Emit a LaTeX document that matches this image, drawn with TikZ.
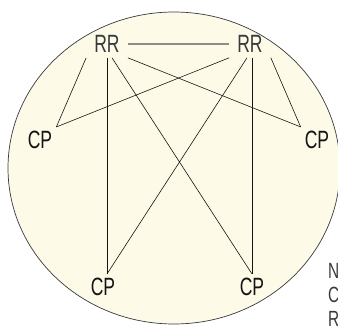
\documentclass[tikz,border=0pt]{standalone}
\usepackage{fontspec}
\usetikzlibrary{positioning,calc}
\newfontfamily\narrowsf[FakeStretch=0.7]{Liberation Sans}
\definecolor{paper}{RGB}{255,255,255}
\definecolor{cluster}{RGB}{254,250,232}
\definecolor{ink}{RGB}{20,20,20}
\definecolor{muted}{RGB}{55,58,60}
\definecolor{peerline}{RGB}{140,140,136}
\tikzset{
  link/.style={line width=0.6pt, draw=ink},
  peer/.style={line width=1.3pt, draw=peerline},
  router/.style={font=\narrowsf\fontsize{25}{28}\selectfont, text=muted, inner xsep=8pt, inner ysep=5pt},
  client/.style={font=\narrowsf\fontsize{25}{28}\selectfont, text=ink, inner sep=4pt},
  note/.style={font=\narrowsf\fontsize{22}{24}\selectfont, text=muted, align=left, inner sep=0pt},
}

\begin{document}
\begin{tikzpicture}[x=1pt,y=-1pt]
  \useasboundingbox (0,0) rectangle (338,325);
  \fill[paper] (0,0) rectangle (338,325);

  % Cluster
  \draw[draw=muted, line width=0.7pt, fill=cluster] (174,168) ellipse [x radius=166, y radius=156];

  % Route reflectors and clients
  \node[router] (rr1) at (107,44) {RR};
  \node[router] (rr2) at (250,44) {RR};
  \node[client] (cpl) at (40,140) {CP};
  \node[client] (cpr) at (317,140) {CP};
  \node[client] (cpbl) at (103,287) {CP};
  \node[client] (cpbr) at (252,287) {CP};
  \coordinate (cpbl-top) at (rr1.south |- cpbl.north);
  \coordinate (rr2-foot) at (cpbr.north |- rr2.south);

  % Connections
  \draw[peer] (rr1.east) -- (rr2.west);
  \draw[link] (rr1.south west) -- (cpl.north east);
  \draw[link] (rr2.south west) -- (cpl.north east);
  \draw[link] (rr1.south east) -- (cpr.north west);
  \draw[link] (rr2.south east) -- (cpr.north west);
  \draw[link] (rr1.south) -- (cpbl-top);
  \draw[link] ([xshift=-3pt]rr2.south) -- (cpbl-top);
  \draw[link] ([xshift=5pt]rr1.south) -- (cpbr.north);
  \draw[link] (rr2-foot) -- (cpbr.north);

  % Legend (cut off at the edge)
  \node[note, anchor=north west] (legend) at (328,263) {N\\C\\R};
\end{tikzpicture}
\end{document}
